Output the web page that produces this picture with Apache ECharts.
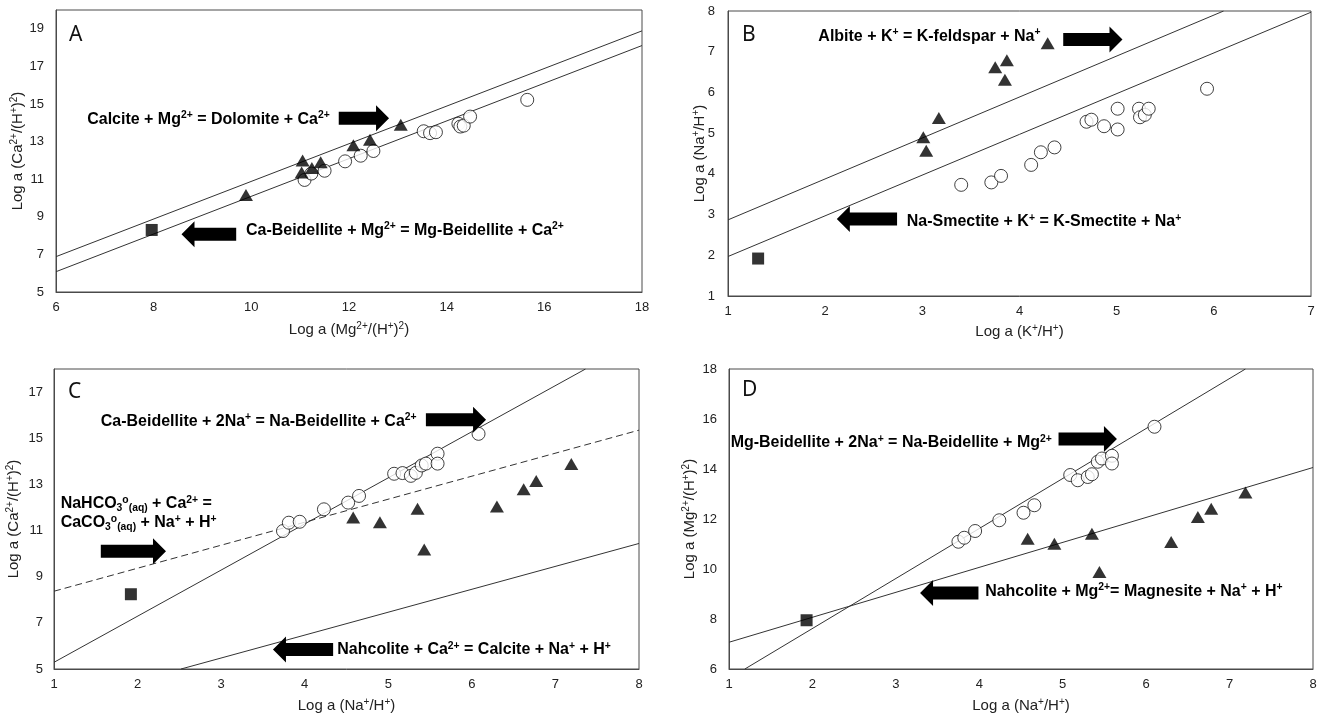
<!DOCTYPE html>
<html>
<head>
<meta charset="utf-8">
<script src="https://cdn.jsdelivr.net/npm/echarts@6/dist/echarts.min.js"></script>
<style>
html, body { margin: 0; padding: 0; background: #fff; }
#chart { width: 1324px; height: 716px; }
</style>
</head>
<body>
<div id="chart"></div>
<script>
// 面板 A：Mg2+ 与 Ca2+ 活度
const aXTicks = [6, 8, 10, 12, 14, 16, 18]
const aYTicks = [5, 7, 9, 11, 13, 15, 17, 19]
const aYMax = 20
const aCircles = [[11.09, 10.96], [11.23, 11.3], [11.5, 11.45], [11.92, 11.95], [12.24, 12.25], [12.5, 12.5],
    [13.53, 13.55], [13.66, 13.45], [13.78, 13.5], [14.24, 13.95], [14.28, 13.8], [14.35, 13.85], [14.48, 14.33], [15.65, 15.22]]
const aTriangles = [[9.89, 10.16], [11.05, 12.0], [11.03, 11.35], [11.24, 11.6], [11.42, 11.9], [12.09, 12.8], [12.43, 13.1], [13.06, 13.9]]
const aSquares = [[7.96, 8.3]]
const aLineUpper = [[6, 6.88], [18, 18.89]]
const aLineLower = [[6, 6.08], [18, 18.11]]

// 面板 B：K+ 与 Na+ 活度
const bXTicks = [1, 2, 3, 4, 5, 6, 7]
const bYTicks = [1, 2, 3, 4, 5, 6, 7, 8]
const bYMax = 8
const bCircles = [[3.4, 3.73], [3.71, 3.79], [3.81, 3.95], [4.12, 4.22], [4.22, 4.53], [4.36, 4.65], [4.69, 5.28], [4.74, 5.33],
    [4.87, 5.17], [5.01, 5.6], [5.01, 5.09], [5.23, 5.6], [5.24, 5.39], [5.29, 5.45], [5.33, 5.6], [5.93, 6.09]]
const bTriangles = [[3.01, 4.9], [3.04, 4.57], [3.17, 5.37], [3.75, 6.62], [3.87, 6.79], [3.85, 6.31], [4.29, 7.21]]
const bSquares = [[1.31, 1.92]]
const bLineUpper = [[1, 2.87], [6.1, 8]]
const bLineLower = [[1, 1.97], [7, 7.97]]

// 面板 C：Na+ 与 Ca2+ 活度
const cXTicks = [1, 2, 3, 4, 5, 6, 7, 8]
const cYTicks = [5, 7, 9, 11, 13, 15, 17]
const cYMax = 18
const cCircles = [[3.74, 10.98], [3.81, 11.34], [3.94, 11.38], [4.23, 11.92], [4.52, 12.21], [4.65, 12.5], [5.07, 13.46], [5.17, 13.49],
    [5.27, 13.37], [5.33, 13.5], [5.4, 13.82], [5.45, 13.9], [5.59, 14.33], [5.59, 13.9], [6.08, 15.19]]
const cTriangles = [[4.58, 11.56], [4.9, 11.36], [5.35, 11.94], [5.43, 10.18], [6.3, 12.04], [6.62, 12.79], [6.77, 13.15], [7.19, 13.88]]
const cSquares = [[1.92, 8.24]]
const cLineSteep = [[1, 5.29], [7.36, 18]]
const cLineDashed = [[1, 8.37], [8, 15.35]]
const cLineLow = [[2.52, 5], [8, 10.44]]

// 面板 D：Na+ 与 Mg2+ 活度
const dXTicks = [1, 2, 3, 4, 5, 6, 7, 8]
const dYTicks = [6, 8, 10, 12, 14, 16, 18]
const dYMax = 18
const dCircles = [[3.75, 11.09], [3.82, 11.25], [3.95, 11.52], [4.24, 11.95], [4.53, 12.25], [4.66, 12.55], [5.09, 13.76], [5.18, 13.55],
    [5.3, 13.68], [5.35, 13.79], [5.42, 14.29], [5.47, 14.42], [5.59, 14.53], [5.59, 14.22], [6.1, 15.69]]
const dTriangles = [[4.58, 11.21], [4.9, 11.01], [5.35, 11.41], [5.44, 9.88], [6.3, 11.08], [6.62, 12.08], [6.78, 12.41], [7.19, 13.06]]
const dSquares = [[1.93, 7.95]]
const dLineSteep = [[1.19, 6], [7.19, 18]]
const dLineShallow = [[1, 7.07], [8, 14.06]]

const FONT = 'Liberation Sans, Arial, sans-serif'
const NOTE_FONT = 'Liberation Sans Narrow, Arial Narrow, Liberation Sans, sans-serif'

let panels = [
    { grid: { left: 56, top: 10, width: 586, height: 282 }, xTicks: aXTicks, yTicks: aYTicks, yMax: aYMax,
      xName: 'Log a (Mg{s|2+}/(H{s|+}){s|2})', yName: 'Log a (Ca{s|2+}/(H{s|+}){s|2})', xGap: 29, yGap: 29, yMargin: 12,
      letter: 'A', letterPos: [69, 35] },
    { grid: { left: 728, top: 11, width: 583, height: 285 }, xTicks: bXTicks, yTicks: bYTicks, yMax: bYMax,
      xName: 'Log a (K{s|+}/H{s|+})', yName: 'Log a (Na{s|+}/H{s|+})', xGap: 27, yGap: 19, yMargin: 13,
      letter: 'B', letterPos: [742, 35] },
    { grid: { left: 54, top: 369, width: 585, height: 300 }, xTicks: cXTicks, yTicks: cYTicks, yMax: cYMax,
      xName: 'Log a (Na{s|+}/H{s|+})', yName: 'Log a (Ca{s|2+}/(H{s|+}){s|2})', xGap: 28, yGap: 31, yMargin: 11,
      letter: 'C', letterPos: [68, 392] },
    { grid: { left: 729, top: 369, width: 584, height: 300 }, xTicks: dXTicks, yTicks: dYTicks, yMax: dYMax,
      xName: 'Log a (Na{s|+}/H{s|+})', yName: 'Log a (Mg{s|2+}/(H{s|+}){s|2})', xGap: 28, yGap: 30, yMargin: 12,
      letter: 'D', letterPos: [742, 390] }
]

// 反应式标注（数据坐标）
let notes = [
    { panel: 0, text: 'Calcite + Mg{s|2+} = Dolomite + Ca{s|2+}', at: [6.64, 14.2] },
    { panel: 0, text: 'Ca-Beidellite + Mg{s|2+} = Mg-Beidellite + Ca{s|2+}', at: [9.89, 8.3] },
    { panel: 1, text: 'Albite + K{s|+} = K-feldspar + Na{s|+}', at: [1.93, 7.38] },
    { panel: 1, text: 'Na-Smectite + K{s|+} = K-Smectite + Na{s|+}', at: [2.84, 2.83] },
    { panel: 2, text: 'Ca-Beidellite + 2Na{s|+} = Na-Beidellite + Ca{s|2+}', at: [1.56, 15.74] },
    { panel: 2, text: 'NaHCO{b|3}{s|o}{b|(aq)} + Ca{s|2+} =\nCaCO{b|3}{s|o}{b|(aq)} + Na{s|+} + H{s|+}', at: [1.08, 11.76] },
    { panel: 2, text: 'Nahcolite + Ca{s|2+} = Calcite + Na{s|+} + H{s|+}', at: [4.39, 5.84] },
    { panel: 3, text: 'Mg-Beidellite + 2Na{s|+} = Na-Beidellite + Mg{s|2+}', at: [1.02, 15.06] },
    { panel: 3, text: 'Nahcolite + Mg{s|2+}= Magnesite + Na{s|+} + H{s|+}', at: [4.07, 9.11] }
]
let arrows = [
    { panel: 0, from: [11.79, 14.24], to: [12.82, 14.24] },
    { panel: 0, from: [9.69, 8.07], to: [8.57, 8.07] },
    { panel: 1, from: [4.45, 7.3], to: [5.06, 7.3] },
    { panel: 1, from: [2.74, 2.89], to: [2.12, 2.89] },
    { panel: 2, from: [5.45, 15.8], to: [6.17, 15.8] },
    { panel: 2, from: [1.56, 10.1], to: [2.34, 10.1] },
    { panel: 2, from: [4.34, 5.84], to: [3.62, 5.84] },
    { panel: 3, from: [4.95, 15.2], to: [5.65, 15.2] },
    { panel: 3, from: [3.99, 9.04], to: [3.29, 9.04] }
]

let seriesData = [
    { circles: aCircles, triangles: aTriangles, squares: aSquares, lines: [[aLineUpper, 'solid'], [aLineLower, 'solid']] },
    { circles: bCircles, triangles: bTriangles, squares: bSquares, lines: [[bLineUpper, 'solid'], [bLineLower, 'solid']] },
    { circles: cCircles, triangles: cTriangles, squares: cSquares, lines: [[cLineSteep, 'solid'], [cLineDashed, [7, 4]], [cLineLow, 'solid']] },
    { circles: dCircles, triangles: dTriangles, squares: dSquares, lines: [[dLineSteep, 'solid'], [dLineShallow, 'solid']] }
]

let supStyle = { fontSize: 10, lineHeight: 9, verticalAlign: 'top', fontFamily: FONT, color: '#222' }

let grids = [], xAxes = [], yAxes = [], series = []
panels.forEach(function (p, i) {
    grids.push(Object.assign({ show: true, borderColor: '#4a4a4a', borderWidth: 1, backgroundColor: '#fff', outerBoundsMode: 'none', containLabel: false }, p.grid))
    xAxes.push({
        type: 'value', gridIndex: i, min: p.xTicks[0], max: p.xTicks[p.xTicks.length - 1], interval: p.xTicks[1] - p.xTicks[0],
        name: p.xName, nameLocation: 'middle', nameGap: p.xGap, nameMoveOverlap: false,
        nameTextStyle: { fontSize: 15, fontFamily: FONT, color: '#222', lineHeight: 18, rich: { s: supStyle } },
        axisLine: { show: true, lineStyle: { color: '#4a4a4a', width: 1 } },
        axisTick: { show: false }, splitLine: { show: false },
        axisLabel: { fontSize: 13, fontFamily: FONT, color: '#222', margin: 9 }
    })
    yAxes.push({
        type: 'value', gridIndex: i, min: p.yTicks[0], max: p.yMax, interval: p.yTicks[1] - p.yTicks[0],
        name: p.yName, nameLocation: 'middle', nameGap: p.yGap, nameMoveOverlap: false,
        nameTextStyle: { fontSize: 15, fontFamily: FONT, color: '#222', lineHeight: 18, rich: { s: supStyle } },
        axisLine: { show: true, lineStyle: { color: '#4a4a4a', width: 1 } },
        axisTick: { show: false }, splitLine: { show: false },
        axisLabel: { fontSize: 13, fontFamily: FONT, color: '#222', margin: p.yMargin,
            showMaxLabel: p.yTicks[p.yTicks.length - 1] === p.yMax }
    })
    let d = seriesData[i]
    d.lines.forEach(function (l) {
        series.push({ type: 'line', xAxisIndex: i, yAxisIndex: i, data: l[0], showSymbol: false, silent: true,
            lineStyle: { color: '#333', width: 1, type: l[1] }, z: 1 })
    })
    series.push({ type: 'scatter', xAxisIndex: i, yAxisIndex: i, data: d.circles, symbol: 'circle', symbolSize: 13,
        itemStyle: { color: '#fff', borderColor: '#111', borderWidth: 1 }, z: 2 })
    series.push({ type: 'scatter', xAxisIndex: i, yAxisIndex: i, data: d.triangles, symbol: 'triangle', symbolSize: [14, 12],
        itemStyle: { color: '#000' }, z: 3 })
    series.push({ type: 'scatter', xAxisIndex: i, yAxisIndex: i, data: d.squares, symbol: 'rect', symbolSize: 12,
        itemStyle: { color: '#000' }, z: 3 })
})

let myChart = echarts.init(document.getElementById('chart'), null, { renderer: 'canvas' })
myChart.setOption({
    animation: false,
    backgroundColor: '#fff',
    textStyle: { fontFamily: FONT },
    grid: grids, xAxis: xAxes, yAxis: yAxes, series: series
})

// 标注文字与箭头（文字横向压缩，模拟窄体粗字）
let noteRich = {
    s: { fontSize: 11, lineHeight: 10, verticalAlign: 'top', fontFamily: NOTE_FONT, fontWeight: 'bold', fill: '#000' },
    b: { fontSize: 11, lineHeight: 10, verticalAlign: 'bottom', fontFamily: NOTE_FONT, fontWeight: 'bold', fill: '#000' }
}
let graphics = []
panels.forEach(function (p) {
    graphics.push({ type: 'text', x: p.letterPos[0], y: p.letterPos[1], z: 10,
        style: { text: p.letter, fontSize: 21, fontFamily: 'Noto Sans, DejaVu Sans, sans-serif', fill: '#111', verticalAlign: 'middle', align: 'left' } })
})
notes.forEach(function (n) {
    let pt = myChart.convertToPixel({ gridIndex: n.panel }, n.at)
    graphics.push({ type: 'text', x: pt[0], y: pt[1], z: 10, scaleX: 0.94,
        style: { text: n.text, fontSize: 17, fontWeight: 'bold', fontFamily: NOTE_FONT, fill: '#000', lineHeight: 19,
            align: 'left', verticalAlign: 'middle', rich: noteRich } })
})
arrows.forEach(function (a) {
    let p0 = myChart.convertToPixel({ gridIndex: a.panel }, a.from)
    let p1 = myChart.convertToPixel({ gridIndex: a.panel }, a.to)
    let dir = p1[0] > p0[0] ? 1 : -1
    let cy = p0[1], hx = p1[0] - dir * 13
    graphics.push({ type: 'polygon', z: 10,
        shape: { points: [[p0[0], cy - 6.5], [hx, cy - 6.5], [hx, cy - 13], [p1[0], cy], [hx, cy + 13], [hx, cy + 6.5], [p0[0], cy + 6.5]] },
        style: { fill: '#000' } })
})
myChart.setOption({ graphic: graphics })
</script>
</body>
</html>
